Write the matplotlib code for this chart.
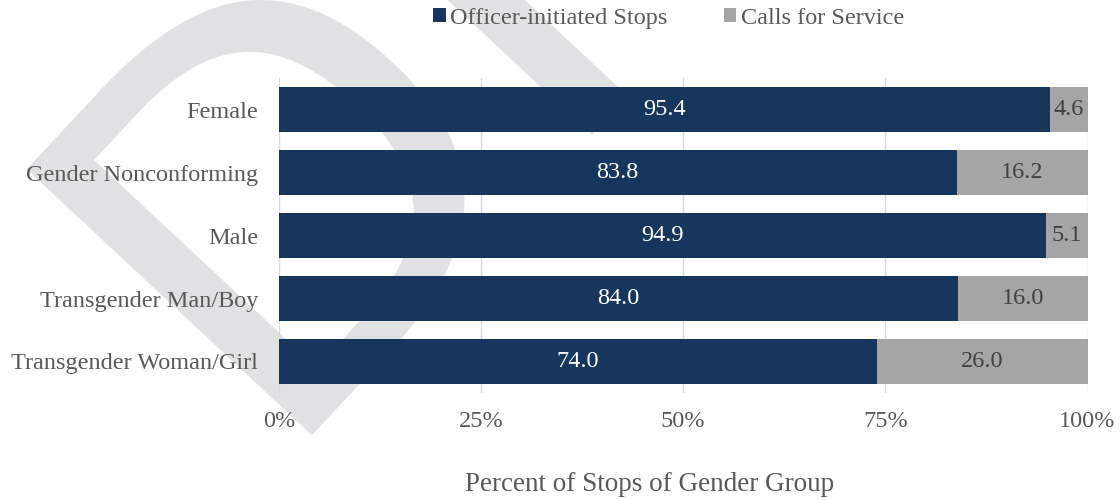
import matplotlib.pyplot as plt
from matplotlib.ticker import PercentFormatter

# data
groups = ['Female', 'Gender Nonconforming', 'Male',
          'Transgender Man/Boy', 'Transgender Woman/Girl']
officer = [95.4, 83.8, 94.9, 84.0, 74.0]
calls = [4.6, 16.2, 5.1, 16.0, 26.0]
series_names = ['Officer-initiated Stops', 'Calls for Service']

navy = '#17365D'
grey = '#A5A5A5'
txt = '#595959'

plt.rcParams['font.family'] = ['Liberation Serif', 'DejaVu Serif']

fig = plt.figure(figsize=(11.2, 5), dpi=100)

# faint DRAFT watermark behind the chart
fig.text(0.232, 0.128, 'DRAFT', rotation=47, rotation_mode='anchor',
         ha='left', va='baseline', fontsize=385, color='#E0E1E3',
         family='DejaVu Sans', zorder=-5)

ax = fig.add_axes([0.249, 0.214, 0.722, 0.630])
ax.set_facecolor('none')

y = range(len(groups))
b1 = ax.barh(y, officer, height=0.7, color=navy, label=series_names[0], zorder=3)
b2 = ax.barh(y, calls, left=officer, height=0.7, color=grey, label=series_names[1], zorder=3)

for rect, v in zip(b1, officer):
    ax.text(rect.get_x() + rect.get_width() / 2, rect.get_y() + rect.get_height() / 2,
            f'{v:.1f}', ha='center', va='center', color='white', fontsize=17.5, zorder=4)
for rect, v in zip(b2, calls):
    ax.text(rect.get_x() + rect.get_width() / 2, rect.get_y() + rect.get_height() / 2,
            f'{v:.1f}', ha='center', va='center', color='#404040', fontsize=17.5, zorder=4)

ax.set_xlim(0, 100)
ax.set_ylim(4.5, -0.5)
ax.set_yticks(list(y))
ax.set_yticklabels(groups)
ax.set_xticks([0, 25, 50, 75, 100])
ax.xaxis.set_major_formatter(PercentFormatter(decimals=0))
ax.tick_params(length=0, labelsize=17.5, colors=txt)
ax.tick_params(axis='x', pad=13)
ax.tick_params(axis='y', pad=15)
ax.grid(axis='x', color='#D9D9D9', linewidth=1, zorder=0)
for s in ax.spines.values():
    s.set_visible(False)

ax.set_xlabel('Percent of Stops of Gender Group', fontsize=19.5, color=txt, va='center')
ax.xaxis.set_label_coords(0.4586, -0.292)

fig.legend(loc='center', bbox_to_anchor=(0.597, 0.963), ncol=2, frameon=False,
           fontsize=17.5, labelcolor=txt, handlelength=0.5, handleheight=0.5,
           handletextpad=0.2, columnspacing=2.3)

fig.savefig('out.png', dpi=100)
